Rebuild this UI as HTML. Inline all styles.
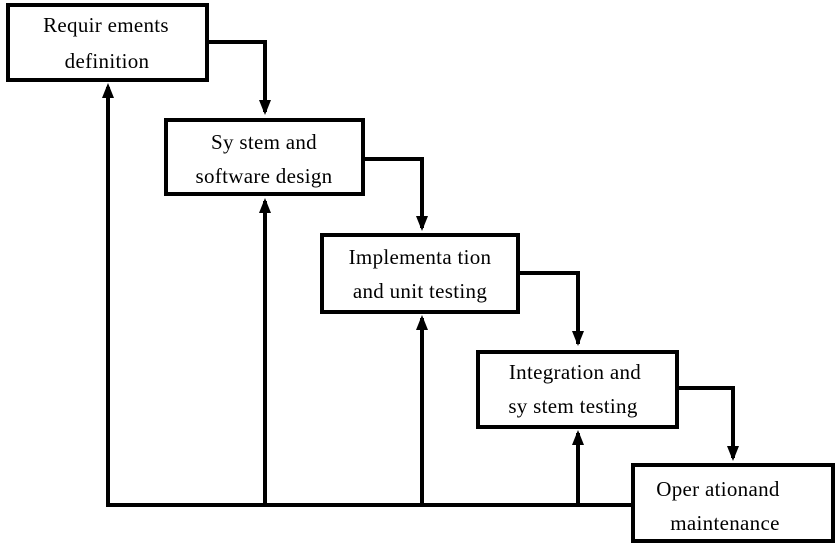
<!DOCTYPE html>
<html><head><style>
body{margin:0;background:#fff;}
svg text{font-family:"Liberation Serif",serif;font-size:21px;fill:#000;text-anchor:middle;letter-spacing:0.3px;}
</style></head><body>
<svg width="838" height="548" xmlns="http://www.w3.org/2000/svg">
<g fill="none" stroke="#000" stroke-width="4">
<rect x="8" y="5" width="199" height="75"/>
<rect x="166" y="120" width="197" height="74"/>
<rect x="322" y="235" width="196" height="77"/>
<rect x="478" y="352" width="199" height="75"/>
<rect x="633" y="465" width="200" height="76"/>
<polyline points="207,42 265,42 265,112"/>
<polyline points="363,159 422,159 422,228"/>
<polyline points="518,273 578,273 578,344"/>
<polyline points="677,388 733,388 733,458"/>
<line x1="106" y1="505" x2="633" y2="505"/>
<line x1="108" y1="505" x2="108" y2="87"/>
<line x1="265" y1="505" x2="265" y2="201"/>
<line x1="422" y1="505" x2="422" y2="318"/>
<line x1="578" y1="505" x2="578" y2="433"/>
</g>
<g fill="#000">
<path d="M259,100 L265,115 L271,100 Z"/>
<path d="M416,216 L422,231 L428,216 Z"/>
<path d="M572,331 L578,346 L584,331 Z"/>
<path d="M727,446 L733,461 L739,446 Z"/>
<path d="M102,98 L108,83 L114,98 Z"/>
<path d="M259,213 L265,198 L271,213 Z"/>
<path d="M416,330 L422,315 L428,330 Z"/>
<path d="M572,445 L578,430 L584,445 Z"/>
</g>
<text x="106" y="32">Requir ements</text>
<text x="107" y="68">definition</text>
<text x="264" y="149">Sy stem  and</text>
<text x="264" y="183">software design</text>
<text x="420" y="264">Implementa tion</text>
<text x="420" y="298">and unit testing</text>
<text x="575" y="379">Integration and</text>
<text x="573" y="413">sy stem  testing</text>
<text x="718" y="496">Oper  ationand</text>
<text x="725" y="530">maintenance</text>
</svg>
</body></html>
